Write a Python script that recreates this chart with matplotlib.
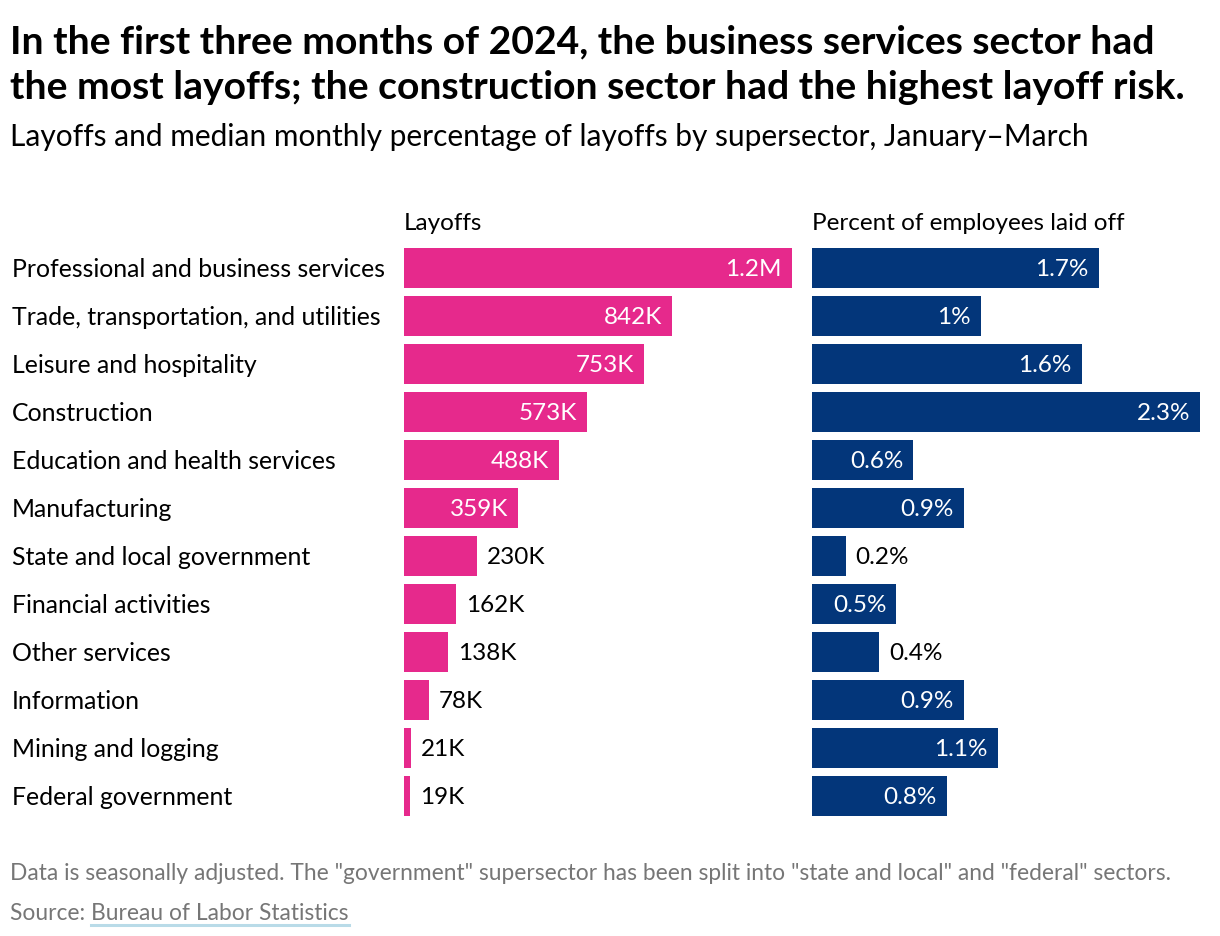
import matplotlib.pyplot as plt
from matplotlib.transforms import blended_transform_factory
from matplotlib.lines import Line2D

plt.rcParams["font.family"] = ["Lato", "DejaVu Sans"]

sectors = [
    "Professional and business services",
    "Trade, transportation, and utilities",
    "Leisure and hospitality",
    "Construction",
    "Education and health services",
    "Manufacturing",
    "State and local government",
    "Financial activities",
    "Other services",
    "Information",
    "Mining and logging",
    "Federal government",
]
layoffs = [1218, 842, 753, 573, 488, 359, 230, 162, 138, 78, 21, 19]  # thousands
pct_laid_off = [1.7, 1.0, 1.6, 2.3, 0.6, 0.9, 0.2, 0.5, 0.4, 0.9, 1.1, 0.8]

PINK = "#e6298c"
NAVY = "#03367a"
GRAY = "#767676"

W, H = 1220, 936
fig = plt.figure(figsize=(W / 100, H / 100), dpi=100)


def fx(px):
    return px / W


def fy(py):
    return 1 - py / H


def k_label(v):
    if v >= 1000:
        return f"{v / 1000:.1f}M"
    return f"{v:.0f}K"


def pct_label(v):
    return f"{v:g}%"


top, bottom = 248, 816
ax1 = fig.add_axes([fx(404), fy(bottom), fx(388), (bottom - top) / H])
ax2 = fig.add_axes([fx(812), fy(bottom), fx(388), (bottom - top) / H])

y = list(range(len(sectors)))
bh = 40 / 48


def draw(ax, vals, color, xmax, fmt, inside_min):
    ax.barh(y, vals, height=bh, color=color)
    ax.set_xlim(0, xmax)
    ax.set_ylim(len(vals) - 1 + bh / 2, -bh / 2)
    ax.axis("off")
    pad = xmax * 10 / 388
    for i, v in enumerate(vals):
        if v >= inside_min:
            ax.text(v - pad, i + 0.03, fmt(v), ha="right", va="center",
                    color="white", fontsize=17.5)
        else:
            ax.text(v + pad, i + 0.03, fmt(v), ha="left", va="center",
                    color="black", fontsize=17.5)


draw(ax1, layoffs, PINK, max(layoffs), k_label, 300)
draw(ax2, pct_laid_off, NAVY, max(pct_laid_off), pct_label, 0.45)

tr = blended_transform_factory(fig.transFigure, ax1.transData)
for i, s in enumerate(sectors):
    ax1.text(fx(12), i + 0.03, s, transform=tr, ha="left", va="center",
             fontsize=17.9, color="black")

fig.text(fx(404), fy(230), "Layoffs", fontsize=17.5, va="baseline")
fig.text(fx(812), fy(230), "Percent of employees laid off", fontsize=17.5,
         va="baseline")

fig.text(fx(10), fy(53),
         "In the first three months of 2024, the business services sector had",
         fontsize=28.2, fontweight="bold", va="baseline")
fig.text(fx(10), fy(99),
         "the most layoffs; the construction sector had the highest layoff risk.",
         fontsize=28.2, fontweight="bold", va="baseline")
fig.text(fx(10), fy(146),
         "Layoffs and median monthly percentage of layoffs by supersector, January\u2013March",
         fontsize=21.5, va="baseline")

fig.text(fx(10), fy(880),
         'Data is seasonally adjusted. The "government" supersector has been split '
         'into "state and local" and "federal" sectors.',
         fontsize=16.4, color=GRAY, va="baseline")
src = fig.text(fx(10), fy(920), "Source: ", fontsize=16.4, color=GRAY,
               va="baseline")
r = fig.canvas.get_renderer()
bb = src.get_window_extent(r)
link = fig.text(bb.x1 / W, fy(920), "Bureau of Labor Statistics", fontsize=16.4,
                color=GRAY, va="baseline")
lb = link.get_window_extent(r)
fig.add_artist(Line2D([lb.x0 / W, lb.x1 / W], [fy(925), fy(925)],
                      transform=fig.transFigure, color="#b9dbe8", lw=2.2))

fig.savefig("out.png", dpi=100)
